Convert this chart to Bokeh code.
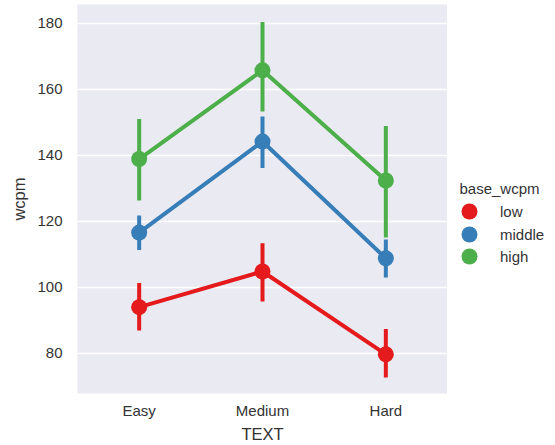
from bokeh.plotting import figure
from bokeh.layouts import row
from bokeh.models import Legend, LegendItem, FixedTicker, Range1d, FactorRange, ColumnDataSource, Label
from bokeh.embed import file_html
from bokeh.resources import INLINE

categories = ["Easy", "Medium", "Hard"]
hues = ["low", "middle", "high"]
colors = ["#e41a1c", "#377eb8", "#4daf4a"]
legend_title = "base_wcpm"

low_mean = [93.9, 104.7, 79.6]
low_lo = [86.8, 95.6, 72.6]
low_hi = [101.2, 113.3, 87.3]

middle_mean = [116.5, 144.1, 108.7]
middle_lo = [111.2, 136.1, 102.9]
middle_hi = [121.7, 151.7, 114.4]

high_mean = [138.8, 165.7, 132.3]
high_lo = [126.2, 153.2, 115.0]
high_hi = [150.9, 180.3, 148.8]

y_ticks = [80, 100, 120, 140, 160, 180]

series = [
    (hues[0], colors[0], low_mean, low_lo, low_hi),
    (hues[1], colors[1], middle_mean, middle_lo, middle_hi),
    (hues[2], colors[2], high_mean, high_lo, high_hi),
]

FONT = "Liberation Sans"
TXT = "#333333"

p = figure(
    width=447, height=445,
    x_range=FactorRange(factors=categories, range_padding=0),
    y_range=Range1d(67.73, 185.64),
    output_backend="svg", toolbar_location=None,
    min_border_left=77, min_border_right=0, min_border_top=4, min_border_bottom=50,
)
p.background_fill_color = "#eaeaf2"
p.border_fill_color = "white"
p.outline_line_color = None

p.xgrid.grid_line_color = None
p.ygrid.grid_line_color = "white"
p.ygrid.grid_line_width = 1.6
p.yaxis.ticker = FixedTicker(ticks=y_ticks)

for ax in (p.xaxis[0], p.yaxis[0]):
    ax.axis_line_color = None
    ax.major_tick_line_color = None
    ax.minor_tick_line_color = None
    ax.major_tick_out = 0
    ax.major_tick_in = 0
    ax.minor_tick_out = 0
    ax.major_label_text_font = FONT
    ax.major_label_text_font_size = "15px"
    ax.major_label_text_color = TXT
    ax.axis_label_text_font = FONT
    ax.axis_label_text_font_size = "16.5px"
    ax.axis_label_text_font_style = "normal"
    ax.axis_label_text_color = TXT

p.xaxis.axis_label = "TEXT"
p.yaxis.axis_label = "wcpm"
p.xaxis.major_label_standoff = 8
p.xaxis.axis_label_standoff = 3
p.yaxis.major_label_standoff = 15
p.yaxis.axis_label_standoff = 6

for name, color, mean, lo, hi in series:
    src = ColumnDataSource(dict(x=categories, y=mean, lo=lo, hi=hi))
    p.line("x", "y", source=src, line_color=color, line_width=4)
    p.segment(x0="x", y0="lo", x1="x", y1="hi", source=src, line_color=color, line_width=4)
    p.scatter("x", "y", source=src, size=16, fill_color=color, line_color=color, line_width=0)

# legend panel to the right of the axes (its frame is aligned with the main frame)
lg = figure(
    width=106, height=445, x_range=Range1d(0, 1), y_range=Range1d(0, 1),
    x_axis_type=None, y_axis_type=None,
    output_backend="svg", toolbar_location=None,
    min_border_left=0, min_border_right=0, min_border_top=0, min_border_bottom=0,
)
lg.outline_line_color = None
lg.grid.grid_line_color = None
lg.background_fill_color = "white"
lg.border_fill_color = "white"

lg.add_layout(Label(
    x=12, y=205, x_units="screen", y_units="screen", text=legend_title,
    text_font=FONT, text_font_size="15px", text_color=TXT, text_baseline="middle",
))

item_y = [162, 139, 117]
for (name, color, mean, lo, hi), vy in zip(series, item_y):
    # off-range proxy marker used only for the legend swatch
    r = lg.scatter(x=[-1], y=[-1], size=16, fill_color=color, line_color=color, line_width=0)
    leg = Legend(
        items=[LegendItem(label=name, renderers=[r])],
        location=(2, vy),
        padding=0, margin=0, spacing=0,
        glyph_width=40, glyph_height=40, label_height=20, label_standoff=11,
        label_text_font=FONT, label_text_font_size="15px", label_text_color=TXT,
        border_line_alpha=0, background_fill_alpha=0,
    )
    lg.add_layout(leg, "center")

layout = row(p, lg, spacing=0)
open("out.html", "w").write(file_html(layout, INLINE))
